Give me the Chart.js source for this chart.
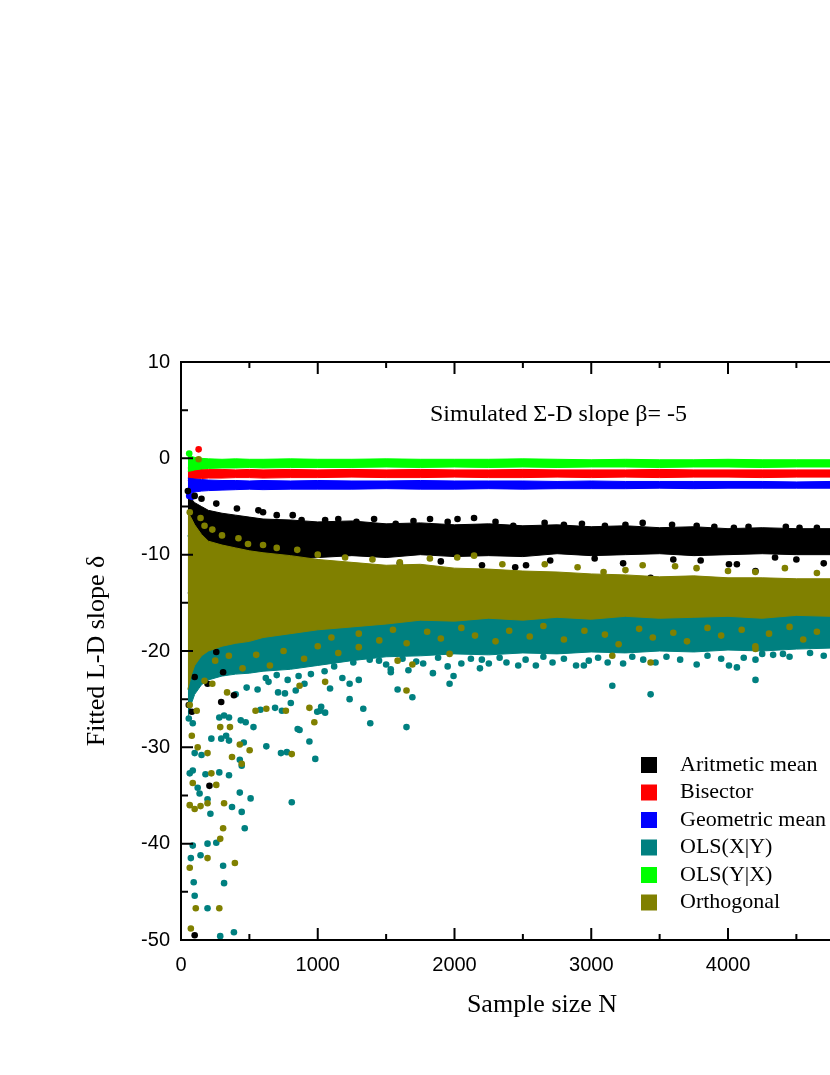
<!DOCTYPE html>
<html>
<head>
<meta charset="utf-8">
<script src="https://cdn.jsdelivr.net/npm/chart.js@4.4.1/dist/chart.umd.min.js"></script>
<style>
  html, body { margin: 0; padding: 0; background: #fff; overflow: hidden; }
  canvas { display: block; }
</style>
</head>
<body>
<canvas id="c" width="900" height="1075"></canvas>
<script>
// envelope grid (sample size N) used for the dense bands
const envN = [50, 75, 100, 150, 200, 300, 400, 500, 600, 800, 1000, 1250, 1500, 1750, 2000, 2250, 2500, 2750, 3000, 3250, 3500, 3750, 4000, 4250, 4500, 4750, 5000];

const greenTop = [0.3, 0.2, 0.1, 0.0, -0.05, -0.1, -0.05, -0.1, -0.1, -0.05, -0.1, -0.1, -0.05, -0.1, -0.1, -0.1, -0.05, -0.1, -0.15, -0.1, -0.15, -0.15, -0.1, -0.15, -0.15, -0.15, -0.15];
const greenBot = [-1.35, -1.3, -1.2, -1.1, -1.05, -1.0, -1.0, -0.95, -1.0, -0.95, -0.95, -0.95, -0.9, -0.95, -0.9, -0.95, -0.9, -0.95, -0.9, -0.9, -0.95, -0.9, -0.9, -0.95, -0.9, -0.9, -0.9];
const redTop = [-1.0, -1.05, -1.1, -1.1, -1.15, -1.15, -1.2, -1.15, -1.2, -1.15, -1.2, -1.15, -1.2, -1.15, -1.2, -1.2, -1.15, -1.2, -1.2, -1.2, -1.15, -1.2, -1.2, -1.2, -1.2, -1.2, -1.2];
const redBot = [-2.3, -2.2, -2.15, -2.1, -2.05, -2.05, -2.0, -2.0, -2.05, -2.0, -2.0, -1.95, -2.0, -2.0, -1.95, -2.0, -2.0, -1.95, -2.0, -1.95, -2.0, -1.95, -1.95, -2.0, -1.95, -1.95, -1.95];
const blueTop = [-2.05, -2.1, -2.15, -2.2, -2.25, -2.3, -2.3, -2.35, -2.3, -2.35, -2.3, -2.35, -2.35, -2.3, -2.35, -2.35, -2.35, -2.4, -2.35, -2.4, -2.4, -2.4, -2.4, -2.4, -2.45, -2.4, -2.4];
const blueBot = [-3.8, -3.6, -3.5, -3.4, -3.35, -3.3, -3.25, -3.2, -3.25, -3.2, -3.2, -3.2, -3.15, -3.2, -3.2, -3.15, -3.2, -3.15, -3.15, -3.15, -3.1, -3.15, -3.1, -3.1, -3.1, -3.1, -3.1];
const blackTop = [-3.8, -4.2, -4.6, -5.0, -5.4, -5.7, -5.9, -6.1, -6.3, -6.4, -6.6, -6.5, -6.8, -6.7, -6.9, -6.8, -7.0, -6.9, -7.1, -7.0, -7.2, -7.1, -7.3, -7.2, -7.3, -7.3, -7.3];
const blackBot = [-14.0, -13.5, -13.0, -12.5, -12.0, -11.5, -11.2, -11.0, -10.8, -10.5, -10.3, -10.1, -10.3, -10.0, -10.2, -10.1, -10.2, -9.9, -10.1, -10.0, -9.9, -10.1, -10.0, -9.9, -10.0, -10.0, -10.0];
const oliveTop = [-5.6, -6.2, -6.9, -7.9, -8.6, -9.0, -9.3, -9.6, -9.8, -10.1, -10.5, -10.8, -11.1, -11.0, -11.4, -11.5, -11.7, -11.8, -12.0, -12.1, -12.3, -12.2, -12.4, -12.4, -12.5, -12.5, -12.5];
const oliveBot = [-24.0, -22.5, -21.5, -20.5, -20.0, -19.5, -19.2, -19.0, -18.6, -18.2, -17.8, -17.5, -17.2, -16.8, -16.9, -16.6, -16.8, -16.5, -16.7, -16.4, -16.6, -16.5, -16.4, -16.6, -16.3, -16.4, -16.3];
const tealTop = [-8.0, -9.0, -10.0, -11.0, -11.5, -12.0, -12.0, -12.5, -12.5, -13.0, -13.0, -13.0, -13.0, -13.0, -13.0, -13.0, -13.0, -13.0, -13.0, -13.0, -13.0, -13.0, -13.0, -13.0, -13.0, -13.0, -13.0];
const tealBot = [-27.0, -25.5, -24.5, -23.5, -23.0, -22.6, -22.4, -22.3, -22.1, -21.9, -21.5, -21.0, -20.6, -20.5, -20.3, -20.4, -20.2, -20.3, -20.1, -20.2, -20.0, -20.1, -19.9, -20.0, -19.8, -19.7, -19.6];

// single points [N, slope]
const redDots = [[129, 0.93]];
const blueDots = [[60, -3.9], [79, -4.0]];
const greenDots = [[60, 0.5]];
const blackDots = [
  [50, -3.4], [100, -3.9], [150, -4.2], [258, -4.7], [409, -5.2], [566, -5.4], [600, -5.6], [700, -5.9], [817, -5.9],
  [882, -6.4], [1054, -6.4], [1150, -6.3], [1283, -6.6], [1412, -6.3], [1570, -6.8], [1700, -6.5], [1821, -6.3],
  [1950, -6.6], [2022, -6.3], [2143, -6.2], [2300, -6.6], [2430, -7.0], [2659, -6.7], [2800, -6.9], [2932, -6.8],
  [3100, -7.0], [3250, -6.9], [3376, -6.7], [3591, -6.9], [3771, -7.0], [3900, -7.1], [4043, -7.2], [4150, -7.1],
  [4423, -7.1], [4523, -7.2], [4650, -7.2],
  [910, -11.0], [1000, -10.8], [1269, -11.4], [1340, -12.1], [1600, -10.9], [1900, -10.7], [2201, -11.1], [2444, -11.3],
  [2523, -11.1], [2700, -10.6], [3025, -10.4], [3233, -10.9], [3434, -12.4], [3600, -10.5], [3800, -10.6], [4007, -11.0],
  [4065, -11.0], [4201, -11.7], [4344, -10.3], [4500, -10.5], [4700, -10.9],
  [79, -20.1], [100, -22.7], [57, -25.6], [79, -26.3], [194, -23.4], [258, -20.1], [387, -24.6], [208, -34.0],
  [100, -49.5], [294, -25.3], [308, -22.2]
];
const tealDots = [
  [86, -40.2], [72, -41.5], [143, -41.2], [194, -40.0], [258, -39.9], [93, -44.0], [100, -45.4], [194, -46.7],
  [308, -42.3], [315, -44.1], [287, -49.6], [387, -49.2],
  [64, -32.7], [86, -32.4], [122, -34.2], [136, -34.8], [179, -32.8], [280, -32.6], [351, -32.9], [194, -35.4],
  [215, -36.9], [430, -34.7], [444, -36.7], [509, -35.3], [373, -36.2], [466, -38.4], [810, -35.7],
  [731, -30.6], [774, -30.5], [867, -28.2], [939, -29.4], [982, -31.2], [624, -29.9], [459, -29.5], [430, -31.3],
  [444, -31.9], [351, -29.3], [294, -29.1], [330, -28.8], [222, -29.1], [100, -30.6], [150, -30.8],
  [280, -26.9], [315, -26.7], [351, -26.9], [530, -27.9], [437, -27.2], [473, -27.4], [853, -28.1], [738, -26.2],
  [688, -25.9], [803, -25.4], [581, -26.1], [996, -26.3], [1025, -25.8], [1054, -26.4], [1233, -25.0], [1333, -26.0],
  [1384, -27.5], [86, -27.5], [57, -27.0], [1018, -26.2],
  [710, -24.3], [760, -24.4], [839, -24.1], [903, -23.4], [1090, -23.9], [1233, -23.4], [1180, -22.8], [1300, -23.0],
  [640, -23.2], [560, -24.0], [480, -23.8], [400, -24.5],
  [620, -22.8], [700, -22.5], [780, -23.0], [860, -22.6], [950, -22.4], [1050, -22.1],
  [1584, -24.0], [1692, -24.8], [1649, -27.9], [3154, -23.6], [3434, -24.5], [4201, -23.0], [1964, -23.4], [1993, -22.6],
  [1842, -22.3], [1534, -22.2],
  [1448, -21.0], [1534, -21.9], [1663, -22.0], [1771, -21.3], [2050, -21.3], [2186, -21.8], [2251, -21.3], [2380, -21.2],
  [2466, -21.5], [2595, -21.5], [2717, -21.2], [2889, -21.5], [2946, -21.5], [2982, -21.0], [3233, -21.3], [3470, -21.2],
  [3771, -21.4], [4007, -21.5], [4065, -21.7], [4115, -20.7], [4201, -20.9], [4330, -20.4], [4402, -20.3], [4509, -19.2],
  [4602, -19.4],
  [1120, -21.6], [1260, -21.2], [1380, -20.9], [1500, -21.4], [1620, -20.8], [1720, -21.1], [1880, -20.7], [1950, -21.6],
  [2120, -20.8], [2200, -20.9], [2330, -20.7], [2520, -20.9], [2650, -20.6], [2800, -20.8], [3050, -20.7], [3120, -21.2],
  [3300, -20.6], [3380, -20.9], [3550, -20.6], [3650, -20.9], [3850, -20.5], [3950, -20.8], [4250, -20.3], [4450, -20.6],
  [4600, -20.2], [4700, -20.5]
];
const oliveDots = [
  [129, -0.1], [64, -5.6], [143, -6.2], [172, -7.0], [229, -7.4], [300, -8.0], [420, -8.3], [490, -8.9], [600, -9.0],
  [700, -9.3], [850, -9.5], [1000, -10.0], [1200, -10.3], [1400, -10.5], [1600, -10.8], [1820, -10.4], [2020, -10.3],
  [2143, -10.1], [2350, -11.0], [2660, -11.0], [2900, -11.3], [3090, -11.8], [3250, -11.6], [3376, -11.1], [3613, -11.2],
  [3770, -11.4], [4000, -11.7], [4200, -11.8], [4416, -11.4], [4650, -11.9],
  [1100, -18.6], [1300, -18.2], [1450, -18.9], [1550, -17.8], [1650, -19.2], [1800, -18.0], [1900, -18.7], [2050, -17.6],
  [2150, -18.4], [2300, -19.0], [2400, -17.9], [2550, -18.5], [2650, -17.4], [2800, -18.8], [2950, -17.9], [3100, -18.3],
  [3200, -19.3], [3350, -17.7], [3450, -18.6], [3600, -18.1], [3700, -19.0], [3850, -17.6], [3950, -18.4], [4100, -17.8],
  [4200, -19.5], [4300, -18.2], [4450, -17.5], [4550, -18.8], [4650, -18.0],
  [1649, -24.1], [1584, -21.0], [1692, -21.4], [1964, -20.3], [3154, -20.5], [3434, -21.2], [4201, -19.8],
  [250, -21.0], [350, -20.5], [450, -21.8], [550, -20.4], [650, -21.5], [750, -20.0], [900, -20.8], [1000, -19.5],
  [1150, -20.2], [1300, -19.6],
  [64, -42.5], [108, -46.7], [280, -46.7], [72, -48.8], [394, -42.0], [194, -41.5], [308, -38.4], [287, -39.5],
  [315, -35.8], [64, -36.0], [100, -36.4], [143, -36.1], [194, -35.8], [86, -33.7], [258, -33.9], [222, -32.7],
  [444, -31.7], [502, -30.3], [373, -31.0], [810, -30.7], [122, -30.0], [79, -28.8], [194, -30.6], [64, -25.6],
  [115, -26.2], [287, -27.9], [358, -27.9], [430, -29.7], [545, -26.2], [624, -26.0], [767, -26.2], [939, -25.9],
  [975, -27.4], [1054, -23.2], [867, -23.6], [337, -24.3], [229, -23.4], [172, -23.1]
];

const legendNames = ['Aritmetic mean', 'Bisector', 'Geometric mean', 'OLS(X|Y)', 'OLS(Y|X)', 'Orthogonal'];
const legendColors = ['#000000', '#ff0000', '#0000ff', '#008080', '#00ff00', '#808000'];

const xTicks = [0, 1000, 2000, 3000, 4000, 5000];
const yTicks = [-50, -40, -30, -20, -10, 0, 10];

const env = vals => envN.map((x, i) => ({ x, y: vals[i] }));
const pts = list => list.map(([x, y]) => ({ x, y }));

const datasets = [];
function band(color, order, bot, top) {
  datasets.push({ data: env(bot), borderColor: color, borderWidth: 1, pointRadius: 0, fill: false, tension: 0, order });
  datasets.push({ data: env(top), borderColor: color, backgroundColor: color, borderWidth: 1, pointRadius: 0, fill: '-1', tension: 0, order });
}
function dots(color, order, list) {
  datasets.push({
    data: pts(list), showLine: false, pointRadius: 3.3, pointHoverRadius: 3.3,
    pointBackgroundColor: color, pointBorderWidth: 0, borderColor: color, order
  });
}

// lower order is drawn on top
band('#000000', 60, blackBot, blackTop);
band('#ff0000', 50, redBot, redTop);
dots('#ff0000', 50, redDots);
band('#0000ff', 40, blueBot, blueTop);
dots('#0000ff', 40, blueDots);
band('#008080', 30, tealBot, tealTop);
dots('#008080', 30, tealDots);
dots('#000000', 25, blackDots);
band('#00ff00', 20, greenBot, greenTop);
dots('#00ff00', 20, greenDots);
band('#808000', 10, oliveBot, oliveTop);
dots('#808000', 10, oliveDots);

const decor = {
  id: 'decor',
  afterDraw(chart) {
    const { ctx, chartArea: a, scales: { x, y } } = chart;
    ctx.save();
    ctx.strokeStyle = '#000';
    ctx.lineWidth = 2;
    ctx.strokeRect(a.left, a.top, a.right - a.left, a.bottom - a.top);

    ctx.beginPath();
    for (let v = 0; v <= 5000; v += 500) {
      const px = x.getPixelForValue(v);
      const len = v % 1000 === 0 ? 12 : 6;
      ctx.moveTo(px, a.bottom); ctx.lineTo(px, a.bottom - len);
      ctx.moveTo(px, a.top); ctx.lineTo(px, a.top + len);
    }
    for (let v = -50; v <= 10; v += 5) {
      const py = y.getPixelForValue(v);
      const len = v % 10 === 0 ? 12 : 7;
      ctx.moveTo(a.left, py); ctx.lineTo(a.left + len, py);
      ctx.moveTo(a.right, py); ctx.lineTo(a.right - len, py);
    }
    ctx.stroke();

    ctx.fillStyle = '#000';
    ctx.font = '26px "Liberation Serif", "Times New Roman", serif';
    ctx.textAlign = 'center';
    ctx.textBaseline = 'middle';
    ctx.fillText('Sample size N', 542, 1005);
    ctx.save();
    ctx.translate(97, 651);
    ctx.rotate(-Math.PI / 2);
    ctx.fillText('Fitted L-D slope \u03b4', 0, 0);
    ctx.restore();

    ctx.font = '24px "Liberation Serif", "Times New Roman", serif';
    ctx.textAlign = 'left';
    ctx.fillText('Simulated \u03a3-D slope \u03b2= -5', 430, 415);

    ctx.font = '22px "Liberation Serif", "Times New Roman", serif';
    legendNames.forEach((name, i) => {
      const cy = 765 + i * 27.5;
      ctx.fillStyle = legendColors[i];
      ctx.fillRect(641, cy - 8, 16, 16);
      ctx.fillStyle = '#000';
      ctx.fillText(name, 680, cy);
    });
    ctx.restore();
  }
};

new Chart(document.getElementById('c'), {
  type: 'line',
  data: { datasets },
  options: {
    responsive: false,
    animation: false,
    events: [],
    layout: { padding: { top: 362, right: 21.5, left: 0, bottom: 0 } },
    plugins: { legend: { display: false }, tooltip: { enabled: false } },
    scales: {
      x: {
        type: 'linear', min: 0, max: 5000,
        afterFit: s => { s.height = 135; },
        afterBuildTicks: s => { s.ticks = xTicks.map(v => ({ value: v })); },
        grid: { display: false, drawTicks: false },
        border: { display: false },
        ticks: { color: '#000', padding: 13, maxRotation: 0, autoSkip: false,
          font: { family: '"Liberation Sans", Arial, sans-serif', size: 20 },
          callback: v => String(v) }
      },
      y: {
        type: 'linear', min: -50, max: 10,
        afterFit: s => { s.width = 181; },
        afterBuildTicks: s => { s.ticks = yTicks.map(v => ({ value: v })); },
        grid: { display: false, drawTicks: false },
        border: { display: false },
        ticks: { color: '#000', padding: 11, autoSkip: false,
          font: { family: '"Liberation Sans", Arial, sans-serif', size: 20 },
          callback: v => String(v) }
      }
    }
  },
  plugins: [decor]
});
</script>
</body>
</html>
